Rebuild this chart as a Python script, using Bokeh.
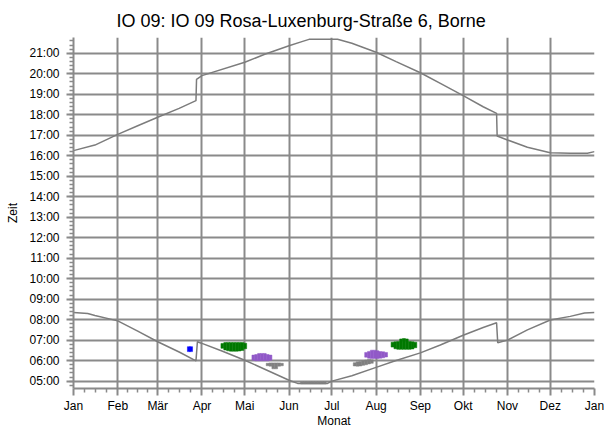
from bokeh.plotting import figure
from bokeh.models import FixedTicker, ColumnDataSource
from bokeh.embed import file_html
from bokeh.resources import INLINE

# Month boundaries (day of year) and their labels
month_starts = [0, 31, 59, 90, 120, 151, 181, 212, 243, 273, 304, 334, 365]
month_labels = ["Jan", "Feb", "Mär", "Apr", "Mai", "Jun", "Jul",
                "Aug", "Sep", "Okt", "Nov", "Dez", "Jan"]

# Hour ticks on the time axis
hour_ticks = list(range(5, 22))
hour_labels = ["05:00", "06:00", "07:00", "08:00", "09:00", "10:00", "11:00",
               "12:00", "13:00", "14:00", "15:00", "16:00", "17:00", "18:00",
               "19:00", "20:00", "21:00"]

# Sunset (local time, hours) over the year, incl. daylight-saving steps
sunset_day = [0, 15, 31, 45, 59, 74, 85.8, 86.2, 90, 120, 134, 151, 160, 165,
              185, 195, 212, 226, 243, 257, 273, 287, 296.4, 296.8, 304, 318,
              334, 348, 360, 365]
sunset_hour = [16.25, 16.52, 17.04, 17.46, 17.88, 18.31, 18.69, 19.73, 19.91,
               20.56, 20.95, 21.37, 21.57, 21.68, 21.68, 21.49, 21.05, 20.59,
               20.05, 19.53, 18.93, 18.39, 18.07, 16.96, 16.77, 16.41, 16.15,
               16.12, 16.12, 16.20]

# Sunrise (local time, hours) over the year
sunrise_day = [0, 10, 15, 31, 45, 59, 74, 85.8, 86.8, 90, 104, 120, 134, 151,
               157, 178, 181, 195, 212, 226, 243, 257, 273, 287, 296.4, 297.2,
               304, 318, 334, 348, 358, 365]
sunrise_hour = [8.35, 8.30, 8.20, 7.94, 7.44, 6.92, 6.42, 5.99, 6.92, 6.84,
                6.47, 6.02, 5.58, 5.04, 4.89, 4.89, 5.00, 5.26, 5.67, 6.01,
                6.38, 6.76, 7.24, 7.62, 7.85, 6.87, 7.00, 7.50, 7.98, 8.16,
                8.32, 8.35]

# Shadow periods per day: day of year, start and end time (hours)
blue_day = [80.8, 82.4]
blue_start = [6.44, 6.44]
blue_end = [6.68, 6.68]

green_day = [104.3, 106.3, 108.3, 110.3, 112.3, 114.3, 116.3, 118.3, 120.3,
             223.5, 225.5, 227.5, 229.5, 231.5, 233.5, 235.5, 237.5, 239.5]
green_start = [6.60, 6.52, 6.48, 6.46, 6.46, 6.46, 6.47, 6.50, 6.58,
               6.66, 6.58, 6.55, 6.55, 6.55, 6.55, 6.55, 6.57, 6.63]
green_end = [6.84, 6.88, 6.89, 6.89, 6.89, 6.89, 6.89, 6.88, 6.85,
             6.90, 6.92, 6.93, 7.06, 7.08, 7.06, 6.93, 6.92, 6.90]

purple_day = [126, 128, 130, 132, 134, 136, 138,
              205, 207, 209, 211, 213, 215, 217, 219]
purple_start = [6.02, 5.99, 5.99, 5.99, 5.99, 5.99, 6.02,
                6.17, 6.12, 6.11, 6.11, 6.11, 6.12, 6.14, 6.18]
purple_end = [6.27, 6.30, 6.35, 6.35, 6.35, 6.30, 6.27,
              6.40, 6.45, 6.51, 6.51, 6.48, 6.44, 6.43, 6.40]

gray_day = [136, 138, 140, 142, 144, 146,
            160, 162, 164, 166, 168, 170, 172, 174, 176,
            197, 199, 201, 203, 205, 207, 209]
gray_start = [5.75, 5.73, 5.60, 5.60, 5.73, 5.75,
              4.86, 4.86, 4.86, 4.86, 4.86, 4.86, 4.86, 4.86, 4.86,
              5.74, 5.73, 5.74, 5.77, 5.80, 5.84, 5.87]
gray_end = [5.87, 5.89, 5.89, 5.89, 5.89, 5.87,
            4.96, 4.96, 4.96, 4.96, 4.96, 4.96, 4.96, 4.96, 4.96,
            5.90, 5.94, 5.96, 6.00, 6.03, 6.06, 6.04]

GRID = "#8a8a8a"
CURVE = "#7c7c7c"
FONT = "Liberation Sans"

p = figure(width=604, height=430, x_range=(0, 365), y_range=(4.64, 21.77),
           output_backend="svg", toolbar_location=None,
           min_border_left=73, min_border_right=10,
           min_border_top=37, min_border_bottom=42,
           background_fill_color="white", border_fill_color="white")
p.outline_line_color = None

p.title.text = "IO 09: IO 09 Rosa-Luxenburg-Straße 6, Borne"
p.title.text_font = FONT
p.title.text_font_size = "18px"
p.title.text_font_style = "normal"
p.title.text_color = "black"
p.title.align = "left"
p.title.offset = 43
p.title.standoff = 14

# quarter-month minor ticks, 12-minute minor ticks
x_minor = []
for a, b in zip(month_starts[:-1], month_starts[1:]):
    x_minor += [a + (b - a) * k / 4 for k in range(1, 4)]
y_minor = [4.6 + 0.2 * k for k in range(0, 87)]

p.xaxis.ticker = FixedTicker(ticks=month_starts, minor_ticks=x_minor)
p.yaxis.ticker = FixedTicker(ticks=hour_ticks, minor_ticks=y_minor)
p.xaxis.major_label_overrides = {d: l for d, l in zip(month_starts[:-1], month_labels[:-1])}
p.xaxis.major_label_overrides[365] = month_labels[-1]
p.yaxis.major_label_overrides = dict(zip(hour_ticks, hour_labels))

p.xaxis.axis_label = "Monat"
p.yaxis.axis_label = "Zeit"

for ax in (p.xaxis[0], p.yaxis[0]):
    ax.axis_line_color = GRID
    ax.axis_line_width = 2
    ax.major_tick_line_color = GRID
    ax.major_tick_line_width = 2
    ax.major_tick_in = 0
    ax.major_tick_out = 7
    ax.minor_tick_line_color = GRID
    ax.minor_tick_line_width = 1.5
    ax.minor_tick_in = 0
    ax.minor_tick_out = 4
    ax.major_label_text_font = FONT
    ax.major_label_text_font_size = "12px"
    ax.major_label_text_color = "black"
    ax.axis_label_text_font = FONT
    ax.axis_label_text_font_size = "12px"
    ax.axis_label_text_font_style = "normal"
    ax.axis_label_text_color = "black"

p.xaxis.major_label_standoff = 3
p.xaxis.axis_label_standoff = -2
p.yaxis.major_label_standoff = 7
p.yaxis.axis_label_standoff = 6

for g in (p.xgrid[0], p.ygrid[0]):
    g.grid_line_color = GRID
    g.grid_line_width = 2

# sunrise / sunset curves
p.line(sunset_day, sunset_hour, line_color=CURVE, line_width=1.5)
p.line(sunrise_day, sunrise_hour, line_color=CURVE, line_width=1.5)

# shadow periods as daily bars
groups = [
    (blue_day, blue_start, blue_end, "#0000ff"),
    (green_day, green_start, green_end, "#007800"),
    (purple_day, purple_start, purple_end, "#9159c8"),
    (gray_day, gray_start, gray_end, "#808080"),
]
for days, start, end, color in groups:
    src = ColumnDataSource(dict(x=days, bottom=start, top=end))
    p.vbar(x="x", bottom="bottom", top="top", width=2, source=src,
           fill_color=color, line_color=color, line_width=0.5)

open("out.html", "w").write(file_html(p, INLINE))
